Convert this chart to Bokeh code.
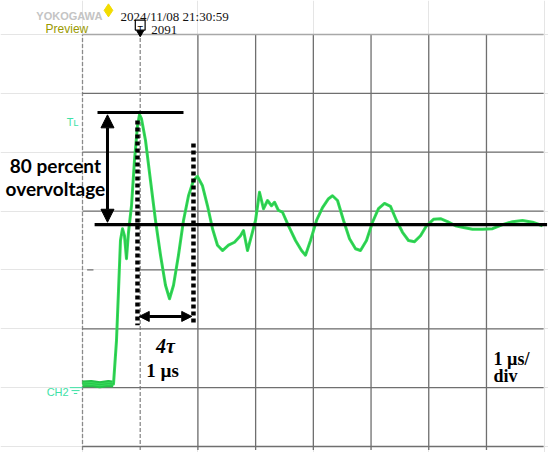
from bokeh.plotting import figure
from bokeh.models import Range1d, Arrow, NormalHead
from bokeh.core.properties import value
from bokeh.embed import file_html
from bokeh.resources import INLINE

# ---------------- data (time in µs from left edge, voltage in divisions from bottom) -------------
t_us = [0.00, 0.15, 0.30, 0.45, 0.537, 0.589, 0.624, 0.658, 0.693, 0.728, 0.762, 0.797, 0.849,
        0.901, 0.953, 0.988, 1.022, 1.092, 1.178, 1.265, 1.352, 1.438, 1.508, 1.577, 1.663,
        1.750, 1.837, 1.923, 1.993, 2.079, 2.166, 2.253, 2.339, 2.426, 2.530, 2.634, 2.738,
        2.790, 2.859, 2.928, 2.998, 3.067, 3.136, 3.206, 3.275, 3.327, 3.396, 3.466, 3.570,
        3.691, 3.795, 3.864, 3.951, 4.055, 4.159, 4.263, 4.332, 4.419, 4.523, 4.627, 4.731,
        4.817, 4.921, 5.025, 5.129, 5.233, 5.337, 5.441, 5.545, 5.649, 5.753, 5.857, 5.961,
        6.082, 6.203, 6.325, 6.463, 6.602, 6.758, 6.931, 7.105, 7.278, 7.451, 7.624, 7.798, 7.971]
v_div = [1.06, 1.07, 1.05, 1.07, 1.06, 1.80, 2.65, 3.50, 3.70, 3.58, 3.19, 3.64, 4.09,
         4.86, 5.45, 5.64, 5.57, 5.20, 4.52, 3.84, 3.25, 2.74, 2.51, 2.74, 3.25,
         3.84, 4.26, 4.52, 4.59, 4.43, 4.09, 3.70, 3.42, 3.33, 3.42, 3.47, 3.58,
         3.67, 3.33, 3.58, 3.84, 4.32, 4.04, 4.18, 4.09, 4.15, 4.01, 3.98, 3.75,
         3.50, 3.33, 3.25, 3.50, 3.84, 4.06, 4.21, 4.26, 4.18, 3.84, 3.53, 3.36,
         3.33, 3.50, 3.81, 4.04, 4.13, 4.08, 3.84, 3.64, 3.50, 3.48, 3.58, 3.75,
         3.86, 3.87, 3.82, 3.75, 3.72, 3.69, 3.69, 3.70, 3.77, 3.82, 3.84, 3.81, 3.75]
n_pre = 5  # pre-trigger baseline samples

# grid divisions
x_solid = [2, 3, 4, 5, 6, 7]
x_dashed = [0, 1]
y_lines = [0, 1, 2, 4, 5, 6]
y_top = 7
y_partial = 3
x_end_div = 7.99

# annotation levels
v_peak = 5.675
v_steady = 3.77
t_arrow = 0.433
t_tau0 = 0.953
t_tau1 = 1.923
v_tau_arrow = 2.21
t_trigger = 1.0
v_ground = 1.0

# ---------------- figure geometry ----------------
DX = 57.71
DY = 58.857
W, H = 548, 452
x0 = -82 / DX
x1 = x0 + W / DX
y1 = 7 + 34 / DY
y0 = y1 - H / DY

p = figure(width=W, height=H, x_range=Range1d(x0, x1), y_range=Range1d(y0, y1),
           output_backend="svg", toolbar_location=None, title=None,
           x_axis_location=None, y_axis_location=None, min_border=0,
           outline_line_color=None, background_fill_color="white",
           border_fill_color="white")

GRID = "#6f6f6f"
# solid vertical grid lines
p.segment(x0=x_solid, y0=[-0.06] * len(x_solid), x1=x_solid, y1=[y_top] * len(x_solid),
          line_color=GRID, line_width=1.3)
# dashed vertical lines (left edge and trigger position)
p.segment(x0=x_dashed, y0=[-0.06] * 2, x1=x_dashed, y1=[y_top, 7.03], line_color="#8a8a8a",
          line_width=1.3, line_dash="4 2")
# horizontal grid lines
p.segment(x0=[0] * len(y_lines), y0=y_lines, x1=[x_end_div] * len(y_lines), y1=y_lines,
          line_color=GRID, line_width=1.3)
p.segment(x0=[0], y0=[y_top], x1=[x_end_div], y1=[y_top], line_color="#a8a8a8", line_width=1.6)
p.segment(x0=[0.95, 0.08], y0=[y_partial] * 2, x1=[x_end_div, 0.19], y1=[y_partial] * 2,
          line_color=GRID, line_width=1.3)

# ---------------- waveform ----------------
GREEN = "#34dd58"
p.line(t_us[:n_pre], v_div[:n_pre], line_color="#27c24a", line_width=7)
p.line(t_us, v_div, line_color=GREEN, line_width=3.0, line_join="round")
p.line(t_us, v_div, line_color="#1f9e40", line_width=0.8, line_alpha=0.55)

# ---------------- annotations ----------------
p.segment(x0=[0.26, 0.21], y0=[v_peak, v_steady], x1=[1.75, 8.05], y1=[v_peak, v_steady],
          line_color="black", line_width=3.2)
p.segment(x0=[t_tau0, t_tau1], y0=[5.54, 5.15], x1=[t_tau0, t_tau1], y1=[2.06, 2.06],
          line_color="black", line_width=4.5, line_dash="4 3")
p.add_layout(Arrow(x_start=t_arrow, y_start=v_steady + 0.04, x_end=t_arrow, y_end=v_peak - 0.04,
                   line_width=3,
                   start=NormalHead(size=13, fill_color="black", line_color="black"),
                   end=NormalHead(size=13, fill_color="black", line_color="black")))
p.add_layout(Arrow(x_start=t_tau0 + 0.03, y_start=v_tau_arrow, x_end=t_tau1 - 0.03,
                   y_end=v_tau_arrow, line_width=3,
                   start=NormalHead(size=10, fill_color="black", line_color="black"),
                   end=NormalHead(size=10, fill_color="black", line_color="black")))

p.text(x=[-0.47, -0.47], y=[4.77, 4.38], text=["80 percent", "overvoltage"],
       text_font=value("Lato"), text_font_style="bold", text_font_size="19px",
       text_align="center", text_baseline="alphabetic", text_color="black")
p.text(x=[1.438], y=[1.716], text=["4τ"], text_font=value("Liberation Serif"),
       text_font_style="bold italic", text_font_size="20px", text_align="center",
       text_baseline="alphabetic", text_color="black")
p.text(x=[1.386], y=[1.29], text=["1 µs"], text_font=value("Liberation Serif"),
       text_font_style="bold", text_font_size="19px", text_align="center",
       text_baseline="alphabetic", text_color="black")
p.text(x=[7.122, 7.122], y=[1.495, 1.206], text=["1 µs/", "div"],
       text_font=value("Liberation Serif"), text_font_style="bold", text_font_size="18px",
       text_align="left", text_baseline="alphabetic", text_color="black")

# ---------------- scope header & markers ----------------
p.text(x=[-0.80], y=[7.32], text=["YOKOGAWA"], text_font=value("Liberation Sans"),
       text_font_style="bold", text_font_size="11px", text_color="#c4c4c4",
       text_baseline="alphabetic", text_align="left")
p.scatter(x=[0.45], y=[7.41], marker="diamond", size=13, fill_color="#f2dc00",
          line_color="#f2dc00")
p.text(x=[0.66], y=[7.30], text=["2024/11/08 21:30:59"], text_font=value("Liberation Serif"),
       text_font_size="13px", text_color="#111111", text_baseline="alphabetic",
       text_align="left")
p.text(x=[-0.64], y=[7.085], text=["Preview"], text_font=value("Liberation Sans"),
       text_font_size="12px", text_color="#9a9a00", text_baseline="alphabetic",
       text_align="left")
p.rect(x=[t_trigger], y=[7.16], width=0.17, height=0.17, fill_color="white",
       line_color="black", line_width=1.2)
p.text(x=[t_trigger], y=[7.10], text=["T"], text_font=value("Liberation Sans"),
       text_font_size="9px", text_color="black", text_align="center",
       text_baseline="alphabetic")
p.scatter(x=[t_trigger], y=[7.03], marker="inverted_triangle", size=7, fill_color="black",
          line_color="black")
p.text(x=[1.19], y=[7.07], text=["2091"], text_font=value("Liberation Serif"),
       text_font_size="13px", text_color="#111111", text_baseline="alphabetic",
       text_align="left")

CYAN = "#3ee2a6"
p.text(x=[-0.17], y=[5.50], text=["Tʟ"], text_font=value("DejaVu Sans"),
       text_font_size="10px", text_color=CYAN, text_align="center",
       text_baseline="alphabetic")
p.text(x=[-0.24], y=[0.93], text=["CH2"], text_font=value("Liberation Sans"),
       text_font_size="11px", text_color=CYAN, text_align="right",
       text_baseline="alphabetic")
p.segment(x0=[-0.22, -0.19, -0.15], y0=[v_ground, v_ground - 0.05, v_ground - 0.10],
          x1=[0.0, -0.05, -0.09], y1=[v_ground, v_ground - 0.05, v_ground - 0.10],
          line_color=CYAN, line_width=1)

open("out.html", "w").write(file_html(p, INLINE))
